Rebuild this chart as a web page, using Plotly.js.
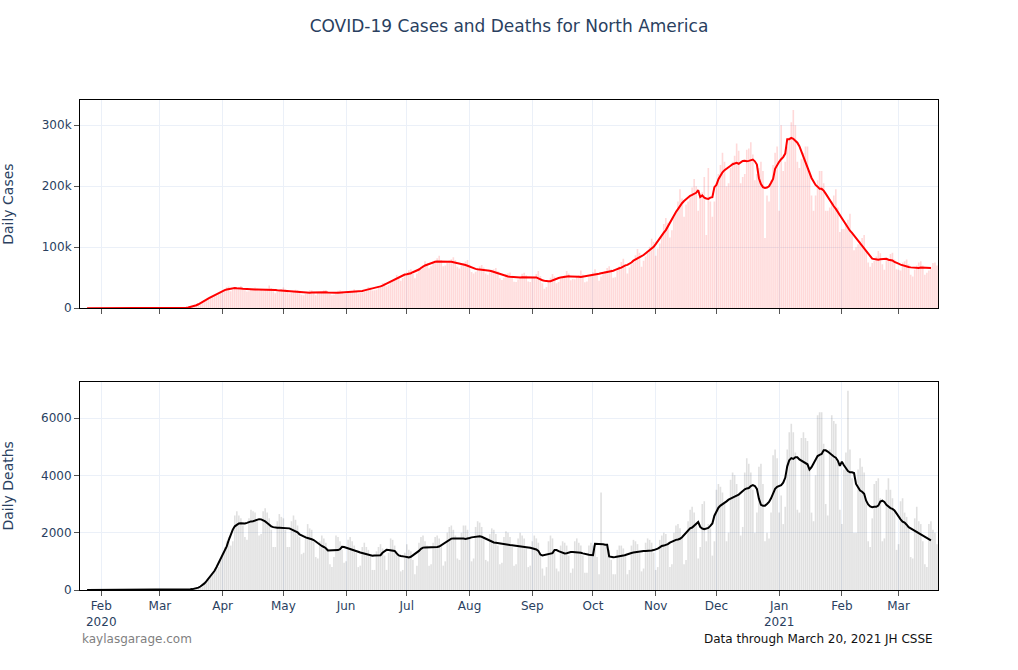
<!DOCTYPE html>
<html>
<head>
<meta charset="utf-8">
<script src="https://cdn.plot.ly/plotly-3.0.1.min.js"></script>
<style>html,body{margin:0;padding:0;background:#fff;}#chart{width:1018px;height:670px;}</style>
</head>
<body>
<div id="chart"></div>
<script>
// First date of the daily series (one value per day, through 2021-03-20)
const startDate = '2020-01-22';

// Month ticks on the shared date axis
const monthTicks = ['2020-02-01','2020-03-01','2020-04-01','2020-05-01','2020-06-01','2020-07-01',
  '2020-08-01','2020-09-01','2020-10-01','2020-11-01','2020-12-01','2021-01-01','2021-02-01','2021-03-01'];
const monthLabels = ['Feb<br>2020','Mar','Apr','May','Jun','Jul','Aug','Sep','Oct','Nov','Dec',
  'Jan<br>2021','Feb','Mar'];

// Daily new cases, North America (thousands), one line per Mon-Sun week
const casesK = [
  0.001, 0, 0.001, 0.001, 0.002,
  0, 0.001, 0, 0.001, 0.001, 0.002, 0.001,
  0.001, 0, 0, 0, 0, 0, 0,
  0, 0.001, 0, 0, 0, 0, 0,
  0, 0, 0, 0.013, 0, 0.001, 0,
  0.002, 0.004, 0.003, 0.005, 0.01, 0.012, 0.02,
  0.02, 0.03, 0.04, 0.06, 0.07, 0.1, 0.11,
  0.15, 0.25, 0.3, 0.45, 0.6, 0.85, 0.9,
  1.3, 1.8, 3.2, 4.8, 6.1, 8.0, 9.5,
  12.5, 13.0, 15.5, 19.5, 21.0, 22.0, 21.5,
  23.0, 27.0, 28.5, 31.5, 34.5, 35.5, 28.0,
  30.0, 32.5, 33.5, 35.0, 36.5, 33.0, 29.5,
  27.5, 28.0, 31.0, 32.5, 34.0, 32.0, 28.5,
  30.0, 28.5, 30.5, 32.0, 37.5, 33.0, 28.0,
  24.5, 27.0, 28.5, 31.5, 34.0, 31.0, 27.0,
  24.0, 25.5, 27.0, 30.5, 30.0, 28.5, 22.0,
  21.5, 23.5, 24.5, 29.5, 29.5, 27.0, 21.5,
  25.0, 24.5, 26.5, 29.5, 30.0, 27.0, 24.0,
  21.5, 22.0, 23.5, 28.5, 29.5, 28.0, 23.5,
  23.5, 25.0, 25.5, 27.0, 31.0, 28.5, 24.0,
  25.0, 26.0, 28.5, 32.0, 35.0, 34.5, 29.0,
  29.5, 30.5, 34.5, 37.0, 41.5, 42.0, 36.0,
  38.0, 42.5, 45.5, 48.5, 54.5, 52.0, 45.0,
  49.5, 55.0, 59.0, 62.5, 64.0, 56.0, 49.0,
  57.0, 66.0, 68.5, 71.0, 77.0, 74.0, 65.5,
  69.0, 74.0, 78.0, 82.0, 86.0, 79.0, 69.0,
  70.0, 74.0, 78.5, 80.5, 83.5, 79.0, 68.0,
  65.0, 70.0, 74.0, 76.5, 79.0, 71.5, 59.5,
  57.0, 60.0, 64.0, 69.0, 71.0, 67.0, 57.0,
  55.0, 59.0, 63.0, 64.0, 66.0, 60.5, 49.0,
  46.5, 50.0, 56.0, 57.5, 58.5, 53.5, 43.5,
  43.0, 47.0, 52.0, 56.5, 58.0, 54.0, 44.0,
  43.0, 50.0, 50.0, 56.0, 61.0, 53.0, 41.0,
  32.0, 35.0, 44.0, 50.0, 56.0, 52.0, 41.0,
  43.0, 48.0, 53.0, 54.0, 61.0, 57.0, 46.0,
  48.0, 47.5, 52.0, 54.0, 62.0, 55.5, 42.5,
  44.0, 51.0, 55.0, 59.0, 64.0, 58.0, 45.0,
  52.0, 56.0, 61.0, 66.0, 69.0, 64.0, 50.0,
  51.0, 62.0, 69.0, 76.0, 81.0, 70.0, 57.0,
  67.0, 72.0, 75.0, 87.0, 97.0, 91.0, 68.0,
  78.0, 85.0, 91.0, 101.0, 114.0, 109.0, 86.0,
  98.0, 106.0, 121.0, 138.0, 148.0, 140.0, 116.0,
  128.0, 150.0, 160.0, 175.0, 195.0, 180.0, 150.0,
  170.0, 175.0, 185.0, 198.0, 212.0, 200.0, 160.0,
  180.0, 190.0, 215.0, 120.0, 230.0, 175.0, 150.0,
  175.0, 205.0, 220.0, 235.0, 255.0, 240.0, 200.0,
  205.0, 230.0, 240.0, 250.0, 270.0, 258.0, 205.0,
  215.0, 220.0, 260.0, 262.0, 272.0, 252.0, 210.0,
  220.0, 230.0, 240.0, 225.0, 115.0, 185.0, 175.0,
  210.0, 235.0, 255.0, 265.0, 160.0, 300.0, 225.0,
  240.0, 265.0, 280.0, 305.0, 325.0, 300.0, 240.0,
  230.0, 245.0, 255.0, 265.0, 265.0, 225.0, 185.0,
  160.0, 185.0, 210.0, 225.0, 225.0, 205.0, 160.0,
  160.0, 165.0, 175.0, 185.0, 195.0, 165.0, 125.0,
  130.0, 130.0, 140.0, 145.0, 155.0, 125.0, 95.0,
  100.0, 105.0, 110.0, 115.0, 120.0, 95.0, 75.0,
  68.0, 74.0, 78.0, 85.0, 94.0, 90.0, 72.0,
  63.0, 80.0, 82.0, 89.0, 91.0, 80.0, 64.0,
  63.0, 62.0, 75.0, 77.0, 80.0, 72.0, 55.0,
  52.0, 63.0, 70.0, 75.0, 77.0, 70.0, 55.0,
  58.0, 62.0, 68.0, 74.0, 75.0, 70.0
];

// Daily new deaths, North America, one line per Mon-Sun week
const deaths = [
  0, 0, 0, 0, 0,
  0, 0, 0, 0, 0, 0, 0,
  0, 0, 0, 0, 0, 0, 0,
  0, 0, 0, 0, 0, 0, 0,
  0, 0, 0, 0, 0, 0, 0,
  0, 0, 0, 0, 0, 1, 1,
  4, 1, 4, 1, 2, 2, 4,
  4, 5, 8, 7, 11, 9, 11,
  20, 25, 45, 50, 60, 85, 120,
  200, 290, 380, 480, 590, 680, 720,
  800, 1050, 1300, 1500, 1700, 1850, 1550,
  1700, 2600, 2750, 2600, 2500, 2250, 1850,
  1750, 2500, 2800, 2750, 2700, 2400, 1900,
  1950, 2750, 2850, 2700, 2500, 2100, 1500,
  1500, 2400, 2650, 2550, 2500, 2100, 1500,
  1500, 2400, 2600, 2450, 2250, 1850, 1250,
  1300, 1900, 2300, 2150, 2100, 1700, 1150,
  1100, 1700, 1900, 1800, 1650, 1450, 900,
  800, 1150, 1900, 1850, 1700, 1400, 950,
  1000, 1750, 1850, 1700, 1550, 1300, 800,
  850, 1500, 1650, 1500, 1400, 1200, 700,
  700, 1350, 1500, 1600, 1450, 1200, 700,
  1300, 1800, 1750, 1550, 1350, 1150, 650,
  700, 1300, 1600, 1400, 1350, 1050, 550,
  850, 1650, 1850, 1900, 1700, 1550, 850,
  900, 1650, 1850, 1900, 1800, 1550, 850,
  1000, 2000, 2200, 2250, 2100, 1900, 1100,
  1050, 2000, 2250, 2250, 2100, 1800, 1000,
  1100, 2200, 2400, 2350, 2200, 1800, 1050,
  1000, 1950, 2150, 2100, 1950, 1550, 900,
  950, 1850, 2050, 2000, 1850, 1500, 850,
  900, 1800, 2000, 1900, 1800, 1450, 800,
  850, 1700, 1900, 1800, 1650, 1250, 750,
  500, 800, 1700, 1900, 1800, 1400, 750,
  650, 1550, 1700, 1650, 1550, 1200, 600,
  750, 1700, 1800, 1650, 1550, 1200, 600,
  600, 1550, 1650, 1550, 1450, 1150, 550,
  3400, 1550, 1600, 1500, 1400, 1050, 550,
  550, 1400, 1550, 1550, 1450, 1200, 550,
  700, 1550, 1750, 1700, 1600, 1300, 650,
  750, 1650, 1800, 1750, 1650, 1300, 700,
  800, 1750, 1900, 2000, 1950, 1650, 800,
  900, 2000, 2250, 2300, 2150, 1850, 900,
  1050, 2400, 2800, 2900, 2700, 2300, 1100,
  1500, 3000, 3100, 1700, 2300, 2150, 1200,
  1700, 3500, 3700, 3600, 3400, 3000, 1700,
  2000, 3850, 4100, 4000, 3700, 3300, 1900,
  2200, 4100, 4600, 4400, 4100, 3500, 2000,
  2700, 4300, 4400, 3700, 1700, 2000, 1800,
  2700, 4700, 4900, 4600, 2700, 3300, 2300,
  2900, 4900, 5500, 5800, 5500, 4800, 2800,
  2700, 5300, 5500, 5300, 5200, 4300, 2700,
  2400, 4000, 6100, 6200, 6200, 5100, 3000,
  2600, 4900, 6100, 5900, 5800, 4500, 2800,
  2300, 4200, 4800, 6950, 4900, 3900, 2000,
  2000, 4200, 4600, 4300, 4100, 3100, 1700,
  1500, 2500, 3700, 3800, 3900, 3200, 1700,
  1800, 3500, 3900, 3500, 3200, 2700, 1400,
  1600, 3100, 3200, 2700, 2550, 2150, 1150,
  1100, 2500, 2900, 2400, 2300, 1700, 900,
  800, 2300, 2400, 2100, 2000, 1600
];

const titleText = 'COVID-19 Cases and Deaths for North America';
const yTitles = ['Daily Cases', 'Daily Deaths'];
const leftNote = 'kaylasgarage.com';
const rightNote = 'Data through March 20, 2021 JH CSSE';

// ---- build dates & 7-day centered averages ----
function dateList(n) {
  const p = startDate.split('-').map(Number);
  const out = [];
  for (let i = 0; i < n; i++) {
    const d = new Date(Date.UTC(p[0], p[1] - 1, p[2] + i));
    out.push(d.toISOString().slice(0, 10));
  }
  return out;
}
function centered7(arr) {
  const out = [];
  for (let i = 0; i < arr.length; i++) {
    if (i < 3 || i > arr.length - 4) { out.push(null); continue; }
    let s = 0;
    for (let k = -3; k <= 3; k++) s += arr[i + k];
    out.push(s / 7);
  }
  return out;
}
const cases = casesK.map(v => v * 1000);
const dates = dateList(cases.length);
const casesAvg = centered7(cases);
const deathsAvg = centered7(deaths);

const traces = [
  {type: 'bar', x: dates, y: cases, xaxis: 'x', yaxis: 'y',
   marker: {color: 'rgba(255,0,0,0.15)', line: {width: 0}}},
  {type: 'scatter', mode: 'lines', x: dates, y: casesAvg, xaxis: 'x', yaxis: 'y',
   line: {color: '#ff0000', width: 2}},
  {type: 'bar', x: dates, y: deaths, xaxis: 'x2', yaxis: 'y2',
   marker: {color: 'rgba(0,0,0,0.12)', line: {width: 0}}},
  {type: 'scatter', mode: 'lines', x: dates, y: deathsAvg, xaxis: 'x2', yaxis: 'y2',
   line: {color: '#000000', width: 2}}
];

const xRange = ['2020-01-21 12:00', '2021-03-20 12:00'];
const axisCommon = {
  showline: true, linecolor: '#000', linewidth: 1, mirror: true,
  ticks: 'outside', ticklen: 5, tickcolor: '#555',
  showgrid: true, gridcolor: '#EBF0F8', zeroline: false
};

const FONT = 'Verdana, "DejaVu Sans", sans-serif';

const layout = {
  width: 1018, height: 670,
  margin: {l: 80, r: 80, t: 100, b: 80},
  paper_bgcolor: '#fff', plot_bgcolor: '#fff',
  font: {family: FONT, size: 12, color: '#2a3f5f'},
  title: {text: titleText, x: 0.5, xanchor: 'center', y: 0.961, yanchor: 'middle',
          font: {family: FONT, size: 17, color: '#2a3f5f'}},
  showlegend: false,
  bargap: 0.2,
  xaxis: Object.assign({}, axisCommon, {domain: [0, 1], anchor: 'y', range: xRange, type: 'date',
          matches: 'x2', showticklabels: false, tickmode: 'array', tickvals: monthTicks, ticktext: monthLabels}),
  xaxis2: Object.assign({}, axisCommon, {domain: [0, 1], anchor: 'y2', range: xRange, type: 'date',
          tickmode: 'array', tickvals: monthTicks, ticktext: monthLabels}),
  yaxis: Object.assign({}, axisCommon, {domain: [0.575, 1], anchor: 'x', range: [0, 341400],
          title: {text: yTitles[0], standoff: 30, font: {size: 14, color: '#2a3f5f'}}}),
  yaxis2: Object.assign({}, axisCommon, {domain: [0, 0.425], anchor: 'x2', range: [0, 7265],
          title: {text: yTitles[1], standoff: 30, font: {size: 14, color: '#2a3f5f'}}}),
  annotations: [
    {text: leftNote, xref: 'paper', yref: 'paper', x: 0, y: -0.1, xanchor: 'left', yanchor: 'middle',
     showarrow: false, font: {size: 12, color: '#7f7f7f'}},
    {text: rightNote, xref: 'paper', yref: 'paper', x: 0.997, y: -0.1, xanchor: 'right', yanchor: 'middle',
     showarrow: false, font: {size: 12, color: '#111'}}
  ]
};

Plotly.newPlot('chart', traces, layout, {displayModeBar: false, responsive: false});
</script>
</body>
</html>
